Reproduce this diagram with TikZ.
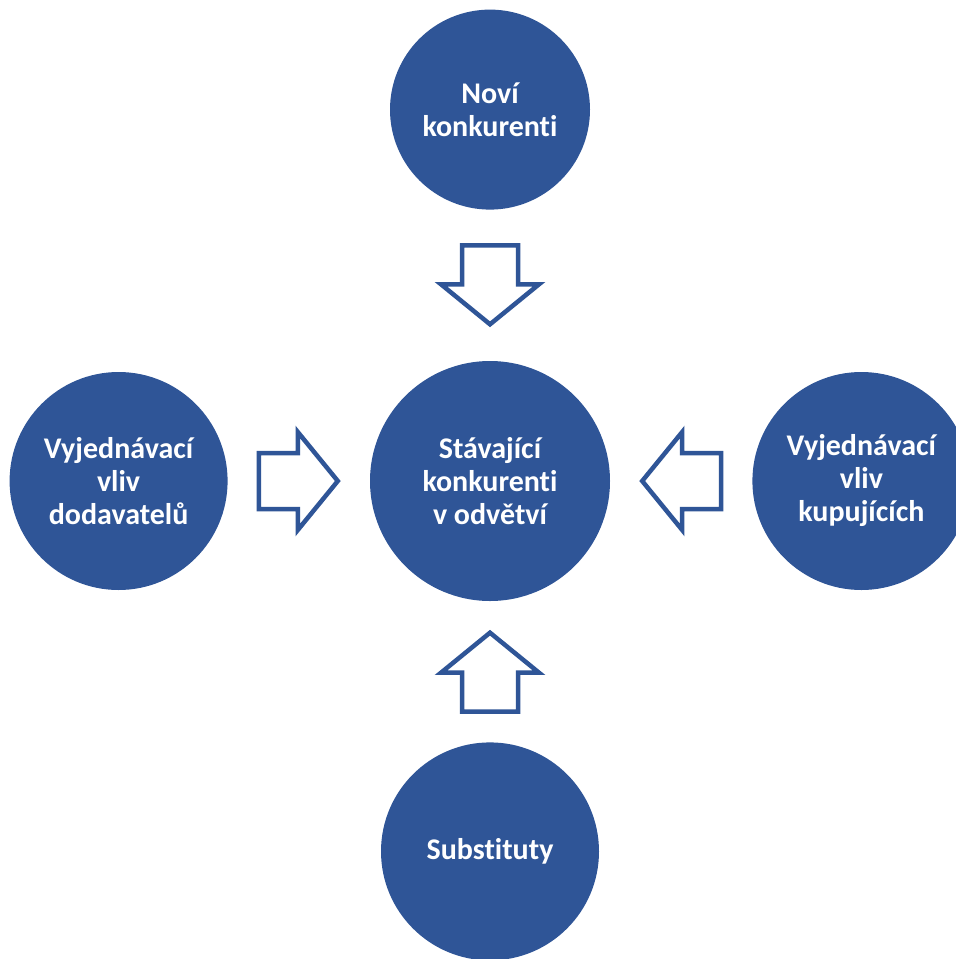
\documentclass[tikz,border=0pt]{standalone}
\usepackage{fontspec}
\setmainfont{Carlito}[Ligatures=NoCommon]
\usetikzlibrary{positioning,calc}
\definecolor{porterblue}{RGB}{47,85,151}

\tikzset{
  force/.style={circle, fill=porterblue, text=white, inner sep=0pt,
    font=\bfseries\fontsize{30}{33}\selectfont, align=center},
  blockarrow/.style={draw=porterblue, line width=4.5pt, fill=white, line join=miter}
}

\begin{document}
\begin{tikzpicture}[x=1pt,y=-1pt]
\useasboundingbox (0,0) rectangle (956,959);

\node[force, minimum size=240pt] (rivals) at (490,481) {Stávající\\konkurenti\\v odvětví};
\node[force, minimum size=200pt, above=151pt of rivals] (entrants) {Noví\\konkurenti};
\node[force, minimum size=218pt, left=142pt of rivals] (suppliers) {Vyjednávací\\vliv\\dodavatelů};
\node[force, minimum size=218pt, right=142pt of rivals] (buyers) {Vyjednávací\\vliv\\kupujících};
\node[force, minimum size=218pt, below=141pt of rivals] (substitutes) {Substituty};

\draw[blockarrow, shift={($(entrants.south)!0.5!(rivals.north)$)}, rotate=-90]
  (-40,-28) -- (-1,-28) -- (-1,-49) -- (39,0) -- (-1,49) -- (-1,28) -- (-40,28) -- cycle;
\draw[blockarrow, shift={($(suppliers.east)!0.5!(rivals.west)$)}]
  (-40,-28) -- (-1,-28) -- (-1,-49) -- (39,0) -- (-1,49) -- (-1,28) -- (-40,28) -- cycle;
\draw[blockarrow, shift={($(buyers.west)!0.5!(rivals.east)$)}, rotate=180]
  (-40,-28) -- (-1,-28) -- (-1,-49) -- (39,0) -- (-1,49) -- (-1,28) -- (-40,28) -- cycle;
\draw[blockarrow, shift={($(substitutes.north)!0.5!(rivals.south)$)}, rotate=90]
  (-40,-28) -- (-1,-28) -- (-1,-49) -- (39,0) -- (-1,49) -- (-1,28) -- (-40,28) -- cycle;

\end{tikzpicture}
\end{document}
